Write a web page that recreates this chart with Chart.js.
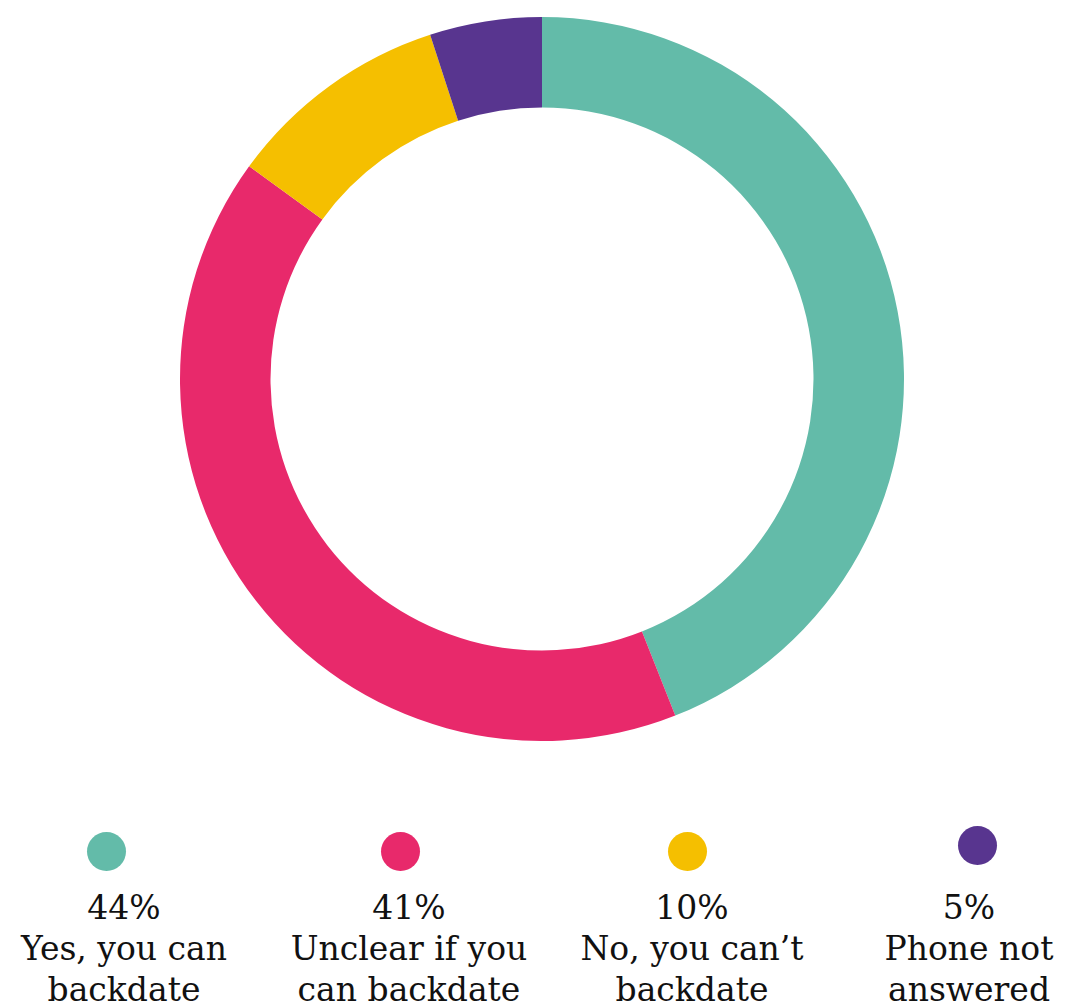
<!DOCTYPE html>
<html>
<head>
<meta charset="utf-8">
<script src="https://cdn.jsdelivr.net/npm/chart.js@4/dist/chart.umd.min.js"></script>
<style>
  html, body { margin: 0; padding: 0; background: #fff; overflow: hidden; }
  body { width: 1065px; height: 1007px; position: relative; font-family: "DejaVu Serif", serif; color: #111; }
  #chartBox { position: absolute; left: 180px; top: 17px; width: 724px; height: 724px; }
  .dot { position: absolute; width: 39px; height: 39px; border-radius: 50%; }
  .label { position: absolute; width: 300px; text-align: center; font-size: 33px; line-height: 41px; white-space: nowrap; }
</style>
</head>
<body>
<div id="chartBox"><canvas id="myChart"></canvas></div>
<div id="legend"></div>
<script>
const categories = ["Yes, you can backdate", "Unclear if you can backdate", "No, you can\u2019t backdate", "Phone not answered"];
const labelLines = [["Yes, you can", "backdate"], ["Unclear if you", "can backdate"], ["No, you can\u2019t", "backdate"], ["Phone not", "answered"]];
const values = [44, 41, 10, 5];
const colors = ["#63BBA9", "#E8296B", "#F5BF00", "#58358F"];

// legend placement (picture coordinates)
const dotX = [106, 400, 687, 977];
const dotY = [851, 851, 851, 845];
const textX = [124, 409, 692, 969];

function insertLegend() {
  let html = "";
  categories.forEach((name, i) => {
    html += "<div class='dot' style='left:" + (dotX[i] - 19.5) + "px; top:" + (dotY[i] - 19.5) +
      "px; background:" + colors[i] + ";'></div>";
    html += "<div class='label' style='left:" + (textX[i] - 150) + "px; top:887px;'>" +
      values[i] + "%<br>" + labelLines[i].join("<br>") + "</div>";
  });
  document.getElementById("legend").innerHTML = html;
}

function createChart() {
  const config = {
    type: "doughnut",
    data: {
      labels: categories,
      datasets: [{
        data: values,
        backgroundColor: colors,
        borderWidth: 0,
        hoverOffset: 0,
      }],
    },
    options: {
      responsive: true,
      maintainAspectRatio: false,
      animation: false,
      cutout: "75%",
      layout: { padding: 0 },
      plugins: {
        legend: { display: false },
        tooltip: { enabled: false },
      },
    },
  };
  new Chart(document.getElementById("myChart"), config);
}

createChart();
insertLegend();
</script>
</body>
</html>
